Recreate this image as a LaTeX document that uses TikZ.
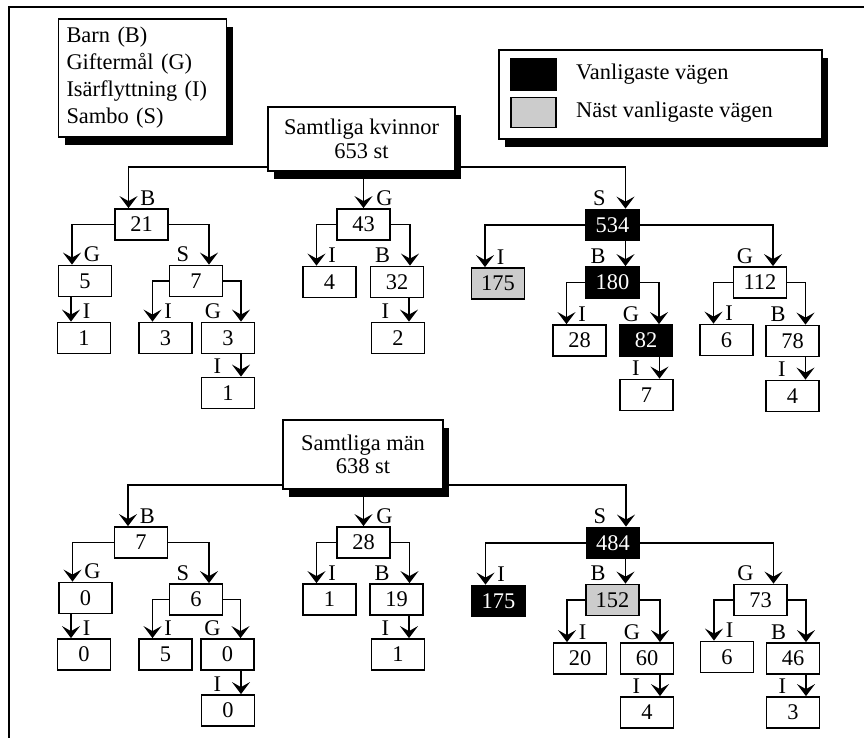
\documentclass[tikz,border=0pt]{standalone}
\usepackage{fontspec}
\setmainfont{Liberation Serif}
\usetikzlibrary{arrows.meta,shadows}

\tikzset{
	box/.style={draw, line width=1.8pt, minimum width=53pt, minimum height=31pt, inner sep=0pt},
	topbox/.style={box, fill=black, text=white},
	nextbox/.style={box, fill=black!20},
	shadowbox/.style={draw, fill=white, line width=1.8pt, align=center,
		drop shadow={shadow xshift=6pt, shadow yshift=-8pt, fill=black, opacity=1}},
	arr/.style={line width=1.8pt, -{Stealth[length=12pt 0 0, width=18pt 0 0, inset=5pt]}},
	lblr/.style={anchor=base west, inner sep=0pt, xshift=11pt, yshift=3pt},
	lbll/.style={anchor=base east, inner sep=0pt, xshift=-19pt, yshift=3pt},
}

\begin{document}
\begin{tikzpicture}[x=1pt,y=-1pt,font=\fontsize{22.4}{27}\selectfont]
\useasboundingbox (0,0) rectangle (864,738);
\draw[line width=1.8pt] (864,7) -- (9,7) -- (9,738);

% legends
\node[shadowbox, align=left, text width=152pt, inner xsep=8pt, minimum height=118pt] (keyL) at (142.5,78)
	{Barn (B)\\Giftermål (G)\\Isärflyttning (I)\\Sambo (S)};
\node[shadowbox, minimum width=323pt, minimum height=89pt] (keyR) at (660.5,94.5) {};
\node[fill=black, minimum width=47pt, minimum height=33pt, inner sep=0pt] (swTop) at (533.5,74.5) {};
\node[draw, line width=1.8pt, fill=black!20, minimum width=45pt, minimum height=30pt, inner sep=0pt] (swNext) at (533.5,112.5) {};
\node[anchor=base west, inner sep=0pt] (txTop) at (576,80) {Vanligaste vägen};
\node[anchor=base west, inner sep=0pt] (txNext) at (576,118) {Näst vanligaste vägen};

% kvinnor
\node[shadowbox, minimum width=187pt, minimum height=64pt, font=\fontsize{22.4}{23.5}\selectfont] (kRoot) at (361.5,139) {Samtliga kvinnor\\653 st};
\node[box] (kB) at (141.5,224.5) {21};
\node[box] (kG) at (363.5,224.5) {43};
\node[topbox] (kS) at (612.5,225) {534};
\node[box] (kBG) at (85,281) {5};
\node[box] (kBS) at (196,281) {7};
\node[box] (kBGI) at (84,338) {1};
\node[box] (kBSI) at (165.5,338) {3};
\node[box] (kBSG) at (228,338) {3};
\node[box] (kBSGI) at (228,393) {1};
\node[box] (kGI) at (329.5,282) {4};
\node[box] (kGB) at (397,282) {32};
\node[box] (kGBI) at (398,338) {2};
\node[nextbox] (kSI) at (498,283.5) {175};
\node[topbox] (kSB) at (612.5,282.5) {180};
\node[box] (kSG) at (760,282.5) {112};
\node[box] (kSBI) at (579.5,340.5) {28};
\node[topbox] (kSBG) at (646,340.5) {82};
\node[box] (kSBGI) at (646.5,395) {7};
\node[box] (kSGI) at (726.5,340) {6};
\node[box] (kSGB) at (792.5,341) {78};
\node[box] (kSGBI) at (792.5,396) {4};

% män
\node[shadowbox, minimum width=160pt, minimum height=69pt, font=\fontsize{22.4}{23.5}\selectfont] (mRoot) at (363,454.5) {Samtliga män\\638 st};
\node[box] (mB) at (141,542.5) {7};
\node[box] (mG) at (363.5,542.5) {28};
\node[topbox] (mS) at (613,543) {484};
\node[box] (mBG) at (85.5,598) {0};
\node[box] (mBS) at (196,599.5) {6};
\node[box] (mBGI) at (84,654.5) {0};
\node[box] (mBSI) at (165.5,654.5) {5};
\node[box] (mBSG) at (227.5,654.5) {0};
\node[box] (mBSGI) at (228,710.5) {0};
\node[box] (mGI) at (329.5,599.5) {1};
\node[box] (mGB) at (396.5,599.5) {19};
\node[box] (mGBI) at (398,654.5) {1};
\node[topbox] (mSI) at (498.5,601) {175};
\node[nextbox] (mSB) at (612.5,600) {152};
\node[box] (mSG) at (760.5,600) {73};
\node[box] (mSBI) at (580,658.5) {20};
\node[box] (mSBG) at (647,658.5) {60};
\node[box] (mSBGI) at (647,712.5) {4};
\node[box] (mSGI) at (727,657) {6};
\node[box] (mSGB) at (793,658.5) {46};
\node[box] (mSGBI) at (793,712.5) {3};

% from the two roots
\foreach \r/\b/\g/\s in {kRoot/kB/kG/kS, mRoot/mB/mG/mS}{
	\draw[arr] ([yshift=5pt]\r.south west) -| ([xshift=-13pt]\b.north) node[lblr] {B};
	\draw[arr] ([yshift=5pt]\r.south east) -| ([xshift=13pt]\s.north) node[lbll] {S};
	\draw[arr] (\g.north |- \r.south) -- (\g.north) node[lblr, xshift=1pt] {G};
}

% left branches
\foreach \p/\c/\t in {kB/kBG/G, kBS/kBSI/I, kG/kGI/I, kS/kSI/I, kSB/kSBI/I, kSG/kSGI/I,
	mB/mBG/G, mBS/mBSI/I, mG/mGI/I, mS/mSI/I, mSB/mSBI/I, mSG/mSGI/I}
	\draw[arr] (\p.west) -| ([xshift=-13pt]\c.north) node[lblr] {\t};

% right branches
\foreach \p/\c/\t in {kB/kBS/S, kBS/kBSG/G, kG/kGB/B, kS/kSG/G, kSB/kSBG/G, kSG/kSGB/B,
	mB/mBS/S, mBS/mBSG/G, mG/mGB/B, mS/mSG/G, mSB/mSBG/G, mSG/mSGB/B}
	\draw[arr] (\p.east) -| ([xshift=13pt]\c.north) node[lbll] {\t};

% straight down
\foreach \p/\c/\o/\t/\s in {kBG/kBGI/-13pt/I/lblr, kBSG/kBSGI/13pt/I/lbll, kGB/kGBI/11pt/I/lbll,
	kS/kSB/13pt/B/lbll, kSBG/kSBGI/13pt/I/lbll, kSGB/kSGBI/13pt/I/lbll,
	mBG/mBGI/-13pt/I/lblr, mBSG/mBSGI/13pt/I/lbll, mGB/mGBI/11pt/I/lbll,
	mS/mSB/13pt/B/lbll, mSBG/mSBGI/13pt/I/lbll, mSGB/mSGBI/13pt/I/lbll}
	\draw[arr] ([xshift=\o]\c.north |- \p.south) -- ([xshift=\o]\c.north) node[\s] {\t};
\end{tikzpicture}
\end{document}
